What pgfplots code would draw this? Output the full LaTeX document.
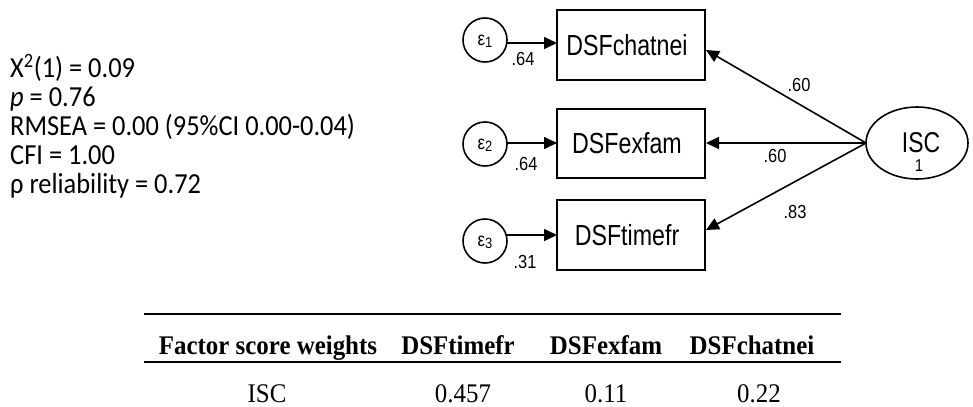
\documentclass[border=0pt]{standalone}
\usepackage{pgfplots}
\pgfplotsset{compat=1.18}
\usepackage{graphicx}
\usepackage{fontspec}
\setmainfont{Carlito}
\newfontfamily\arialf{Liberation Sans}
\newfontfamily\serf{Liberation Serif}
\usetikzlibrary{arrows.meta}
\newcommand{\vs}[1]{\scalebox{1}[1.15]{#1}}
\newcommand{\vt}[1]{\scalebox{1}[1.25]{#1}}
\newcommand{\vl}[1]{\scalebox{1}[1.1]{#1}}
\newcommand{\vu}[1]{\scalebox{1}[1.08]{#1}}
\begin{document}
\begin{tikzpicture}
\begin{axis}[width=973bp, height=407bp, scale only axis,
  xmin=0, xmax=973, ymin=0, ymax=407, y dir=reverse,
  axis lines=none, clip=false]
\path (rel axis cs:0,0) (rel axis cs:1,1);
% fit statistics
\begin{scope}[every node/.style={anchor=base west, inner sep=0pt, font=\fontsize{26.5}{28}\selectfont}]
\node at (axis cs:10,77) {\vl{X\textsuperscript{2}(1) = 0.09}};
\node at (axis cs:10,106) {\vl{\textit{p} = 0.76}};
\node at (axis cs:10,135) {\vl{RMSEA = 0.00 (95\%CI 0.00-0.04)}};
\node at (axis cs:10,164) {\vl{CFI = 1.00}};
\node at (axis cs:10,193) {\vl{ρ reliability = 0.72}};
\end{scope}
% observed variable boxes
\draw[line width=1.6bp] (axis cs:557,10) rectangle (axis cs:705,80);
\draw[line width=1.6bp] (axis cs:557,109) rectangle (axis cs:705,178);
\draw[line width=1.6bp] (axis cs:557,200) rectangle (axis cs:705,270);
\begin{scope}[every node/.style={inner sep=0pt, font=\arialf\fontsize{23.3}{25}\selectfont}]
\node at (axis cs:627,45) {\vt{DSFchatnei}};
\node at (axis cs:627,143) {\vt{DSFexfam}};
\node at (axis cs:627,235) {\vt{DSFtimefr}};
\end{scope}
% error circles
\draw[line width=1.6bp] (axis cs:485,40) circle [radius=22bp];
\draw[line width=1.6bp] (axis cs:485,144) circle [radius=22bp];
\draw[line width=1.6bp] (axis cs:485,241) circle [radius=22bp];
\begin{scope}[every node/.style={inner sep=0pt, font=\arialf\fontsize{17}{18}\selectfont}]
\node at (axis cs:485,41) {\vs{ε\raisebox{-1.5bp}{\fontsize{13}{14}\selectfont 1}}};
\node at (axis cs:485,145) {\vs{ε\raisebox{-1.5bp}{\fontsize{13}{14}\selectfont 2}}};
\node at (axis cs:485,242) {\vs{ε\raisebox{-1.5bp}{\fontsize{13}{14}\selectfont 3}}};
\end{scope}
\addplot[line width=1.6bp, -{Triangle[length=13bp,width=12bp]}] coordinates {(507,43) (557,43)};
\addplot[line width=1.6bp, -{Triangle[length=13bp,width=12bp]}] coordinates {(507,143) (557,143)};
\addplot[line width=1.6bp, -{Triangle[length=13bp,width=12bp]}] coordinates {(507,235) (557,235)};
% latent factor
\draw[line width=1.6bp] (axis cs:917,143) ellipse [x radius=51bp, y radius=36bp];
\node[inner sep=0pt, font=\arialf\fontsize{23}{24}\selectfont] at (axis cs:921,143) {\vt{ISC}};
\node[inner sep=0pt, font=\arialf\fontsize{15}{16}\selectfont] at (axis cs:919,166) {\vs{1}};
\addplot[line width=1.6bp, -{Triangle[length=13bp,width=12bp]}] coordinates {(866,143) (706,50)};
\addplot[line width=1.6bp, -{Triangle[length=13bp,width=12bp]}] coordinates {(866,143) (706,143)};
\addplot[line width=1.6bp, -{Triangle[length=13bp,width=12bp]}] coordinates {(866,143) (706,230)};
% coefficients
\begin{scope}[every node/.style={inner sep=0pt, font=\arialf\fontsize{16.5}{18}\selectfont}]
\node at (axis cs:523,59) {\vs{.64}};
\node at (axis cs:526,164) {\vs{.64}};
\node at (axis cs:525,262) {\vs{.31}};
\node at (axis cs:799,85) {\vs{.60}};
\node at (axis cs:775,156) {\vs{.60}};
\node at (axis cs:795,212) {\vs{.83}};
\end{scope}
% factor score weights table
\draw[line width=2.7bp] (axis cs:144,314) -- (axis cs:841,314);
\draw[line width=1.5bp] (axis cs:144,362) -- (axis cs:841,362);
\begin{scope}[every node/.style={anchor=base, inner sep=0pt, font=\serf\fontsize{25}{27}\selectfont}]
\node at (axis cs:268,354) {\vu{\textbf{Factor score weights}}};
\node at (axis cs:458,354) {\vu{\textbf{DSFtimefr}}};
\node at (axis cs:606,354) {\vu{\textbf{DSFexfam}}};
\node at (axis cs:752,354) {\vu{\textbf{DSFchatnei}}};
\node at (axis cs:267,402) {\vu{ISC}};
\node at (axis cs:463,402) {\vu{0.457}};
\node at (axis cs:606,402) {\vu{0.11}};
\node at (axis cs:759,402) {\vu{0.22}};
\end{scope}
\end{axis}
\end{tikzpicture}
\end{document}
